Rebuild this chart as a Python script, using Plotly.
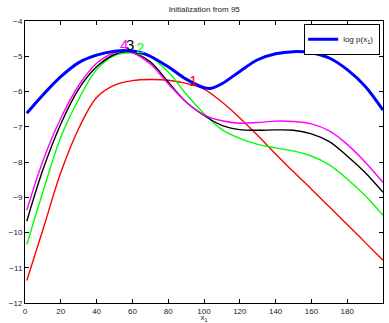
import plotly.graph_objects as go

# ---- data ----
blue_x = [1, 10, 20, 30, 40, 50, 57, 65, 70, 80, 90, 100, 104, 110, 120, 130, 140, 150, 160, 170, 180, 190, 200]
blue_y = [-6.62, -6.1, -5.58, -5.18, -4.97, -4.86, -4.84, -4.9, -5.0, -5.3, -5.65, -5.89, -5.91, -5.78, -5.43, -5.1, -4.93, -4.87, -4.9, -5.05, -5.38, -5.85, -6.53]

red_x = [1, 10, 20, 30, 40, 50, 60, 70, 80, 90, 100, 110, 120, 130, 140, 150, 160, 170, 180, 190, 200]
red_y = [-11.36, -9.92, -8.3, -7.05, -6.17, -5.82, -5.69, -5.66, -5.68, -5.77, -5.93, -6.3, -6.75, -7.25, -7.77, -8.28, -8.77, -9.27, -9.77, -10.28, -10.79]

green_x = [1, 10, 20, 30, 40, 50, 60, 70, 80, 90, 100, 110, 120, 130, 140, 150, 160, 170, 180, 190, 200]
green_y = [-10.34, -8.85, -7.3, -6.22, -5.38, -4.98, -4.9, -5.02, -5.45, -6.07, -6.63, -7.08, -7.33, -7.5, -7.6, -7.69, -7.83, -8.08, -8.48, -8.95, -9.51]

black_x = [1, 10, 20, 30, 40, 50, 57, 60, 70, 80, 90, 100, 110, 120, 130, 140, 150, 160, 170, 180, 190, 200]
black_y = [-9.68, -8.22, -6.92, -5.93, -5.3, -4.95, -4.87, -4.89, -5.16, -5.73, -6.3, -6.68, -6.96, -7.08, -7.1, -7.09, -7.1, -7.2, -7.42, -7.83, -8.3, -8.86]

magenta_x = [1, 10, 20, 30, 40, 50, 55, 60, 70, 80, 90, 100, 110, 120, 130, 140, 150, 160, 170, 180, 190, 200]
magenta_y = [-9.37, -7.97, -6.76, -5.83, -5.2, -4.9, -4.86, -4.9, -5.22, -5.78, -6.3, -6.66, -6.83, -6.9, -6.88, -6.84, -6.85, -6.92, -7.12, -7.5, -8.0, -8.58]

labels = ["1", "2", "3", "4"]
label_x = [90.5, 61, 55.5, 52]
label_y = [-5.68, -4.74, -4.68, -4.68]
label_colors = ["#ff0000", "#00ff00", "#000000", "#ff00ff"]

x_ticks = list(range(0, 201, 20))
y_ticks = list(range(-12, -3, 1))

fig = go.Figure()
for xs, ys, col in [(red_x, red_y, "#ff0000"), (green_x, green_y, "#00ff00"),
                    (black_x, black_y, "#000000"), (magenta_x, magenta_y, "#ff00ff")]:
    fig.add_trace(go.Scatter(x=xs, y=ys, mode="lines", line=dict(color=col, width=1.4, shape="spline", smoothing=1),
                             showlegend=False, hoverinfo="skip"))
fig.add_trace(go.Scatter(x=blue_x, y=blue_y, mode="lines", name="log p(x<sub>1</sub>)",
                         line=dict(color="#0000ff", width=3, shape="spline", smoothing=1)))

for t, xx, yy, c in zip(labels, label_x, label_y, label_colors):
    fig.add_annotation(x=xx, y=yy, text=t, showarrow=False, xanchor="left", yanchor="middle",
                       font=dict(size=15, color=c, family="Liberation Sans"))

axis_common = dict(showgrid=False, zeroline=False, showline=True, linecolor="black", linewidth=1,
                   mirror="ticks", ticks="inside", ticklen=4, tickcolor="black", automargin=False,
                   tickfont=dict(size=8, color="#222222", family="Liberation Sans"))
fig.update_xaxes(range=[0, 200], tickvals=x_ticks, **axis_common,
                 title=dict(text="x<sub>1</sub>", font=dict(size=8, color="#222222"), standoff=2))
fig.update_yaxes(range=[-12, -4], tickvals=y_ticks, **axis_common)

fig.update_layout(
    width=389, height=323,
    margin=dict(l=25, r=6, t=21, b=20),
    paper_bgcolor="white", plot_bgcolor="white",
    font=dict(family="Liberation Sans", size=8, color="#222222"),
    title=dict(text="Initialization from 95", x=0.525, xanchor="center", y=0.97, yanchor="middle",
               font=dict(size=8, color="#222222")),
    legend=dict(x=0.992, y=0.99, xanchor="right", yanchor="top", bgcolor="white",
                bordercolor="black", borderwidth=1, font=dict(size=8), tracegroupgap=0,
                itemwidth=30, indentation=-2),
)

fig.write_html("out.html", config={"displayModeBar": False},
               post_script="document.body.style.margin='0';document.body.style.overflow='hidden';")
